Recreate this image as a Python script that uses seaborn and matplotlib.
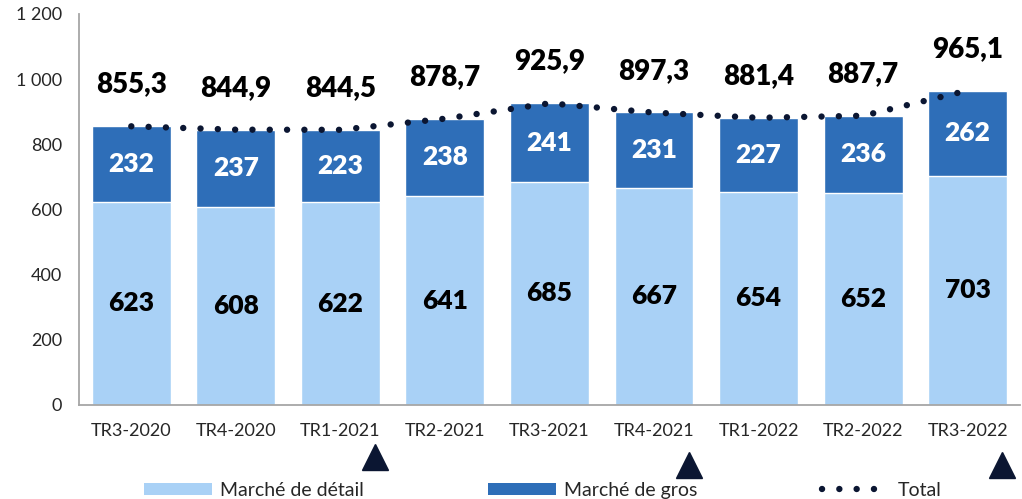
import numpy as np
import pandas as pd
import matplotlib
matplotlib.use("Agg")
import matplotlib.pyplot as plt
import matplotlib.transforms as mtransforms
from matplotlib.patches import Patch
from matplotlib.lines import Line2D
import seaborn as sns

quarters = ["TR3-2020", "TR4-2020", "TR1-2021", "TR2-2021", "TR3-2021",
            "TR4-2021", "TR1-2022", "TR2-2022", "TR3-2022"]
detail = [623, 608, 622, 641, 685, 667, 654, 652, 703]
gros = [232, 237, 223, 238, 241, 231, 227, 236, 262]
total = [855.3, 844.9, 844.5, 878.7, 925.9, 897.3, 881.4, 887.7, 965.1]
arrow_quarters = ["TR1-2021", "TR4-2021", "TR3-2022"]

LIGHT = "#A9D1F6"
DARK = "#2E6EB8"
NAVY = "#0B1632"
FONT = ["Lato", "DejaVu Sans"]

sns.set_style("white")
plt.rcParams["font.family"] = FONT

df = pd.DataFrame({"quarter": quarters, "detail": detail, "gros": gros, "total": total})
df["stack"] = df["detail"] + df["gros"]

fig = plt.figure(figsize=(10.22, 4.99), dpi=100)
ax = fig.add_axes([0.0773, 0.1884, 0.9207, 0.7836])

sns.barplot(data=df, x="quarter", y="stack", color=DARK, saturation=1, width=0.755, ax=ax)
sns.barplot(data=df, x="quarter", y="detail", color=LIGHT, saturation=1, width=0.755, ax=ax)

x = np.arange(len(quarters))
sns.lineplot(x=x, y=df["total"], ax=ax, color=NAVY, linewidth=4.6,
             linestyle=(0, (0.01, 2.7)), dash_capstyle="round")

for i, row in df.iterrows():
    ax.text(i, row["detail"] / 2, f"{row['detail']}", ha="center", va="center",
            fontsize=19, fontweight="heavy", color="black")
    ax.text(i, row["detail"] + row["gros"] / 2, f"{row['gros']}", ha="center", va="center",
            fontsize=19, fontweight="heavy", color="white")
    ax.annotate(f"{row['total']:.1f}".replace(".", ","), (i, row["total"]),
                xytext=(0, 30), textcoords="offset points", ha="center", va="center",
                fontsize=20, fontweight="heavy", color="black")

ax.set_xlim(-0.5, len(quarters) - 0.5)
ax.set_ylim(0, 1200)
ax.set_yticks(np.arange(0, 1201, 200))
ax.set_yticklabels([f"{v:,}".replace(",", " ") for v in range(0, 1201, 200)])
ax.set_xticks(x)
ax.set_xticklabels(quarters)
ax.set_xticks(np.arange(-0.5, len(quarters)), minor=True)
ax.tick_params(axis="x", which="major", length=0, labelsize=13, pad=13)
ax.tick_params(axis="x", which="minor", length=6, color="#A6A6A6", width=1.2)
ax.tick_params(axis="y", length=6, color="#A6A6A6", width=1.2, labelsize=13, pad=6)
ax.set_xlabel("")
ax.set_ylabel("")
sns.despine(ax=ax, top=True, right=True)
for s in ["left", "bottom"]:
    ax.spines[s].set_color("#A6A6A6")
    ax.spines[s].set_linewidth(1.3)

# decorative triangles below some quarter labels
trans = mtransforms.blended_transform_factory(ax.transData, ax.transAxes)
for q in arrow_quarters:
    k = quarters.index(q)
    yy = -0.133 if k == 2 else -0.153
    ax.plot(k + 0.33, yy, marker="^", markersize=19, color=NAVY, transform=trans, clip_on=False)

handles = [
    Patch(facecolor=LIGHT, edgecolor="none"),
    Patch(facecolor=DARK, edgecolor="none"),
    Line2D([0], [0], color=NAVY, linewidth=4.6, linestyle=(0, (0.01, 2.7)), dash_capstyle="round"),
]
fig.legend(handles, ["Marché de détail", "Marché de gros", "Total"], loc="lower left",
           bbox_to_anchor=(0.124, -0.035), ncol=3, frameon=False, fontsize=14,
           handlelength=3.5, handleheight=0.6, handletextpad=0.4, columnspacing=6.4)

fig.savefig("out.png", dpi=100)
